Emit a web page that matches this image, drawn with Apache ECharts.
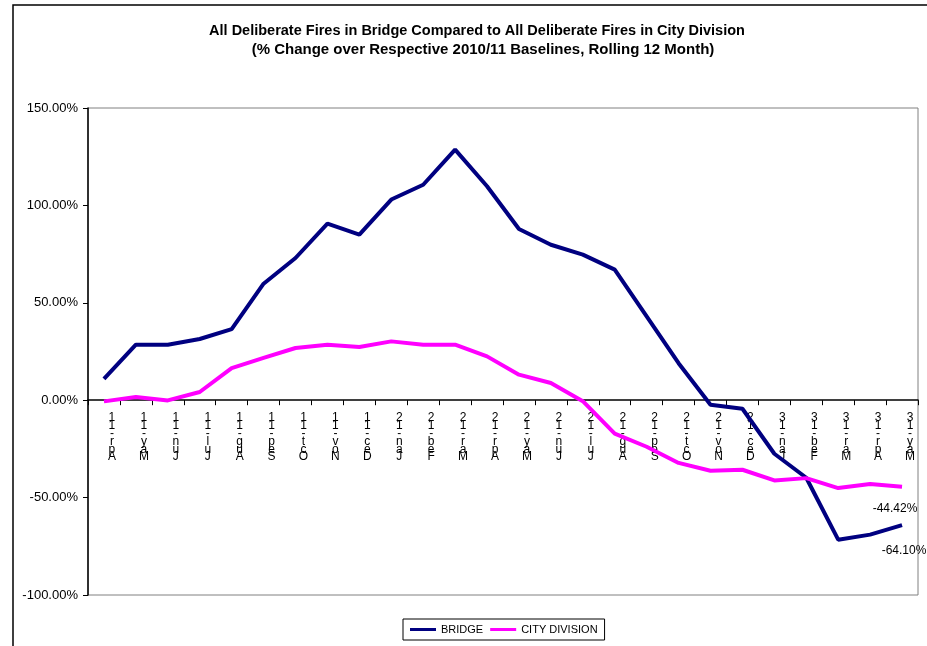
<!DOCTYPE html>
<html>
<head>
<meta charset="utf-8">
<script src="https://cdn.jsdelivr.net/npm/echarts@6/dist/echarts.min.js"></script>
<style>
  html, body { margin: 0; padding: 0; background: #fff; }
  #myChart { width: 927px; height: 646px; }
</style>
</head>
<body>
<div id="myChart"></div>
<script>
// data
var months = ['Apr-11','May-11','Jun-11','Jul-11','Aug-11','Sep-11','Oct-11','Nov-11','Dec-11',
              'Jan-12','Feb-12','Mar-12','Apr-12','May-12','Jun-12','Jul-12','Aug-12','Sep-12',
              'Oct-12','Nov-12','Dec-12','Jan-13','Feb-13','Mar-13','Apr-13','May-13'];
var bridge = [10.9, 28.5, 28.5, 31.4, 36.5, 59.8, 73.0, 90.6, 85.0,
              103.0, 110.6, 128.6, 109.8, 87.9, 79.8, 74.7, 67.0, 43.0,
              19.0, -2.3, -4.4, -27.5, -39.8, -71.6, -69.0, -64.10];
var cityDivision = [-0.6, 1.6, -0.1, 4.2, 16.5, 21.7, 26.8, 28.5, 27.3,
                    30.2, 28.5, 28.5, 22.5, 13.1, 8.8, -0.5, -17.2, -23.9,
                    -32.2, -36.2, -35.7, -41.2, -40.0, -45.1, -43.0, -44.42];
var yTicks = [-100, -50, 0, 50, 100, 150];

var font = 'Liberation Sans, Arial, sans-serif';

var gridTop = 108, gridBottom = 51, chartH = 646;
var plotH = chartH - gridTop - gridBottom;
// distance from the bottom of the plot up to the 0 line
var zeroUp = plotH * (0 - yTicks[0]) / (yTicks[yTicks.length - 1] - yTicks[0]);

function endLabel(offset) {
    return {
        show: true,
        align: 'center',
        verticalAlign: 'top',
        offset: offset,
        formatter: function (p) { return p.value.toFixed(2) + '%'; },
        color: '#000',
        fontFamily: font,
        fontSize: 12
    };
}

var chart = echarts.init(document.querySelector('#myChart'));
var option = {
    animation: false,
    backgroundColor: '#fff',
    graphic: [
        {
            type: 'rect',
            shape: { x: 13, y: 5, width: 1000, height: 1000 },
            style: { fill: 'none', stroke: '#000', lineWidth: 1.5 },
            silent: true
        },
        {
            type: 'text',
            x: 477, y: 31,
            style: {
                text: 'All Deliberate Fires in Bridge Compared to All Deliberate Fires in City Division',
                align: 'center', verticalAlign: 'middle',
                font: 'bold 14.5px ' + font, fill: '#000'
            }
        },
        {
            type: 'text',
            x: 483, y: 50,
            style: {
                text: '(% Change over Respective 2010/11 Baselines, Rolling 12 Month)',
                align: 'center', verticalAlign: 'middle',
                font: 'bold 15px ' + font, fill: '#000'
            }
        }
    ],
    grid: {
        left: 88, right: 9, top: gridTop, bottom: gridBottom,
        outerBoundsMode: 'none',
        containLabel: false,
        show: true,
        borderColor: '#808080',
        borderWidth: 1
    },
    legend: {
        left: 403, top: 619,
        padding: [5, 7],
        borderColor: '#000',
        borderWidth: 1,
        icon: 'rect',
        itemWidth: 26,
        itemHeight: 3,
        itemGap: 7,
        textStyle: { color: '#000', fontFamily: font, fontSize: 11 },
        data: ['BRIDGE', 'CITY DIVISION']
    },
    xAxis: {
        type: 'category',
        data: months,
        boundaryGap: true,
        offset: -zeroUp,
        axisLine: { onZero: false, lineStyle: { color: '#000', width: 1.5 } },
        axisTick: { show: true, inside: false, length: 5, lineStyle: { color: '#000' } },
        axisLabel: {
            interval: 0,
            margin: 14,
            color: '#000',
            fontFamily: font,
            fontSize: 12,
            lineHeight: 7.8,
            padding: [0, 0, 0, 16],
            formatter: function (v) { return v.split('').reverse().join('\n'); }
        },
        splitLine: { show: false }
    },
    yAxis: {
        type: 'value',
        min: yTicks[0],
        max: yTicks[yTicks.length - 1],
        interval: 50,
        axisLine: { show: true, lineStyle: { color: '#000', width: 1.5 } },
        axisTick: { show: true, length: 5, lineStyle: { color: '#000' } },
        axisLabel: {
            margin: 10,
            color: '#000',
            fontFamily: font,
            fontSize: 13,
            formatter: function (v) { return v.toFixed(2) + '%'; }
        },
        splitLine: { show: false }
    },
    series: [
        {
            name: 'BRIDGE',
            type: 'line',
            showSymbol: false,
            symbol: 'none',
            color: '#000080',
            lineStyle: { color: '#000080', width: 4 },
            endLabel: endLabel([-6, 20]),
            data: bridge
        },
        {
            name: 'CITY DIVISION',
            type: 'line',
            showSymbol: false,
            symbol: 'none',
            color: '#ff00ff',
            lineStyle: { color: '#ff00ff', width: 4 },
            endLabel: endLabel([-15, 16]),
            data: cityDivision
        }
    ]
};
chart.setOption(option);
</script>
</body>
</html>
